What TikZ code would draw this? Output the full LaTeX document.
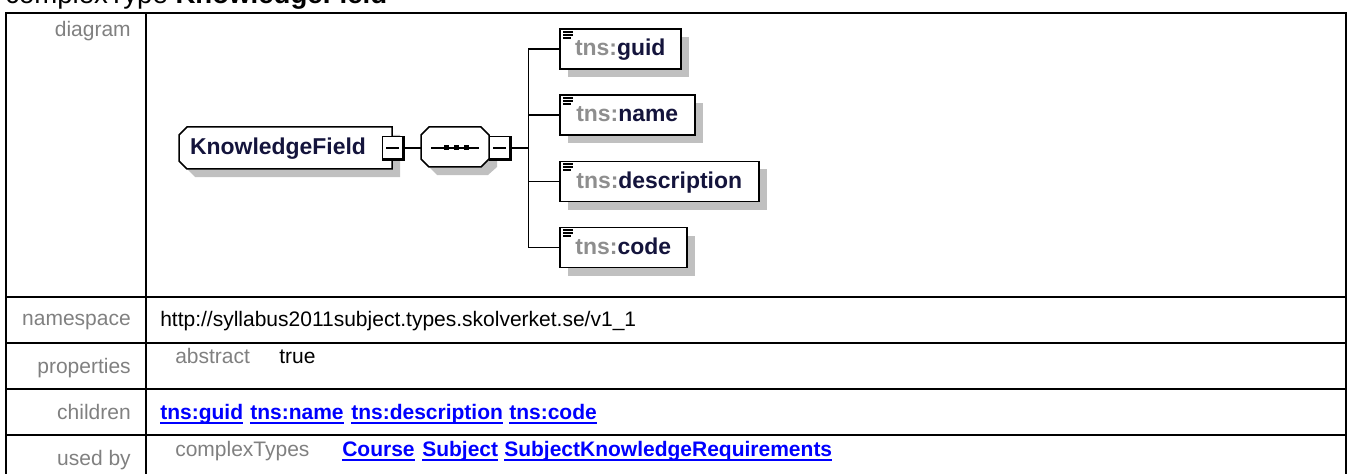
\documentclass[tikz,border=0pt]{standalone}
\usepackage{fontspec}
\setmainfont{Liberation Sans}
\usetikzlibrary{calc,shadows}
\newdimen\px \px=0.75pt
\newcommand\tabfont{\fontsize{15.75pt}{19pt}\selectfont}
\newcommand\diafont{\fontsize{17.2pt}{20pt}\selectfont}
\newcommand\titfont{\fontsize{20.7pt}{24pt}\selectfont}
\definecolor{lbl}{HTML}{808080}
\definecolor{shd}{HTML}{C0C0C0}
\definecolor{lnk}{HTML}{0000FF}
\definecolor{nsgray}{HTML}{8E8E8E}
\definecolor{dark}{HTML}{14143C}
\begin{document}
\begin{tikzpicture}[x=0.75pt,y=-0.75pt,
  tbl/.style={line width=2\px, line cap=rect},
  rowlbl/.style={anchor=base east, inner sep=0, text=lbl, font=\tabfont},
  val/.style={anchor=base west, inner sep=0, font=\tabfont},
  link/.style={anchor=base west, inner sep=0, text=lnk, font=\tabfont\bfseries},
  uline/.style={draw=lnk, line width=2\px},
  outl/.style={draw=black, fill=white, line width=1.5\px, line join=miter},
  conn/.style={draw=black, line width=1.5\px},
  childbox/.style={draw=black, fill=white, line width=1.5\px, anchor=west,
     minimum height=40\px, text height=17\px, text depth=4\px, inner xsep=0,
     font=\diafont\bfseries, text=dark,
     drop shadow={shadow xshift=8\px, shadow yshift=-8\px, fill=shd, opacity=1}},
  minusbox/.style={draw=black, fill=white, line width=1\px, minimum width=21\px,
     minimum height=22\px, inner sep=0},
  thickedge/.style={draw=black, line width=3\px},
  iconline/.style={draw=black, line width=1.6\px}
]
\useasboundingbox (0,0) rectangle (1348,474);
\clip (0,0) rectangle (1348,474);

% title (cut off at top, as in the reference)
\node[anchor=base west, inner sep=0, font=\titfont] (title) at (5,4) {complexType \textbf{KnowledgeField}};

% table grid
\draw[tbl] (6,490) -- (6,13) -- (1346,13) -- (1346,490);
\draw[tbl] (146,13) -- (146,490);
\foreach \yy in {297,343,389,435} \draw[tbl] (6,\yy) -- (1346,\yy);

% row labels
\node[rowlbl] (ldiag) at (131,37) {diagram};
\node[rowlbl] (lns) at (131,325) {namespace};
\node[rowlbl] (lprop) at (131,373) {properties};
\node[rowlbl] (lchild) at (131,419) {children};
\node[rowlbl] (lused) at (131,465) {used by};

% values
\node[val] (ns) at (160,326) {http://syllabus2011subject.types.skolverket.se/v1\_1};
\node[val, text=lbl] (abs) at (175,363) {abstract};
\node[val] (tru) at (279,363) {true};
\node[link] (c1) at (160,419) {tns:guid};
\node[link] (c2) at (250,419) {tns:name};
\node[link] (c3) at (351,419) {tns:description};
\node[link] (c4) at (509,419) {tns:code};
\node[val, text=lbl] (ct) at (175,456) {complexTypes};
\node[link] (u1) at (342,456) {Course};
\node[link] (u2) at (422,456) {Subject};
\node[link] (u3) at (504,456) {SubjectKnowledgeRequirements};
\foreach \n in {c1,c2,c3,c4,u1,u2,u3}
  \draw[uline] ([yshift=-3.5\px]\n.base west) -- ([yshift=-3.5\px]\n.base east);

% complexType box KnowledgeField
\fill[shd] (195,135) -- (400,135) -- (400,177) -- (195,177) -- (187,169) -- (187,143) -- cycle;
\draw[outl] (187,127) -- (392,127) -- (392,169) -- (187,169) -- (179,161) -- (179,135) -- cycle;
\node[inner sep=0, font=\diafont\bfseries, text=dark, text height=17\px, text depth=4\px] (kf) at (278,148) {KnowledgeField};

% sequence compositor
\fill[shd] (437,135) -- (488,135) -- (497,143) -- (497,167) -- (488,175) -- (437,175) -- (429,167) -- (429,143) -- cycle;
\draw[outl] (429,127) -- (481,127) -- (489,135) -- (489,159) -- (481,167) -- (429,167) -- (421,159) -- (421,135) -- cycle;
\coordinate (seqin) at (421,148);
\draw[line width=1.5\px] (431,148) -- (479,148);
\foreach \xx in {446,456,466} \fill (\xx-2.5,145.5) rectangle (\xx+2.5,150.5);

% children
\node[childbox, minimum width=121\px] (guid) at (559,49) {\textcolor{nsgray}{tns:}guid};
\node[childbox, minimum width=135\px] (name) at (559,115) {\textcolor{nsgray}{tns:}name};
\node[childbox, minimum width=199\px] (desc) at (559,181.5) {\textcolor{nsgray}{tns:}description};
\node[childbox, minimum width=127\px] (code) at (559,247.5) {\textcolor{nsgray}{tns:}code};
\foreach \n in {guid,name,desc,code}{
  \draw[iconline] ($(\n.north west)+(4,3.5)$) -- ++(10,0);
  \draw[iconline] ($(\n.north west)+(4,6.5)$) -- ++(10,0);
  \draw[iconline] ($(\n.north west)+(4,9.5)$) -- ++(8,0);
}

% expander boxes
\node[minusbox] (kfx) at (392.5,148) {};
\node[minusbox] (seqx) at (499.5,148) {};
\foreach \n in {kfx,seqx}{
  \draw[thickedge] (\n.north east) -- (\n.south east) -- (\n.south west);
  \draw[line width=1.2\px] ([xshift=-6.5\px]\n.center) -- ([xshift=6.5\px]\n.center);
}

% connectors
\coordinate (bus) at (528.5,148);
\draw[conn] (kfx.east) -- (seqin);
\draw[conn] (seqx.east) -- (bus);
\foreach \n in {guid,name,desc,code}
  \draw[conn] (bus) |- (\n.west);
\end{tikzpicture}
\end{document}
